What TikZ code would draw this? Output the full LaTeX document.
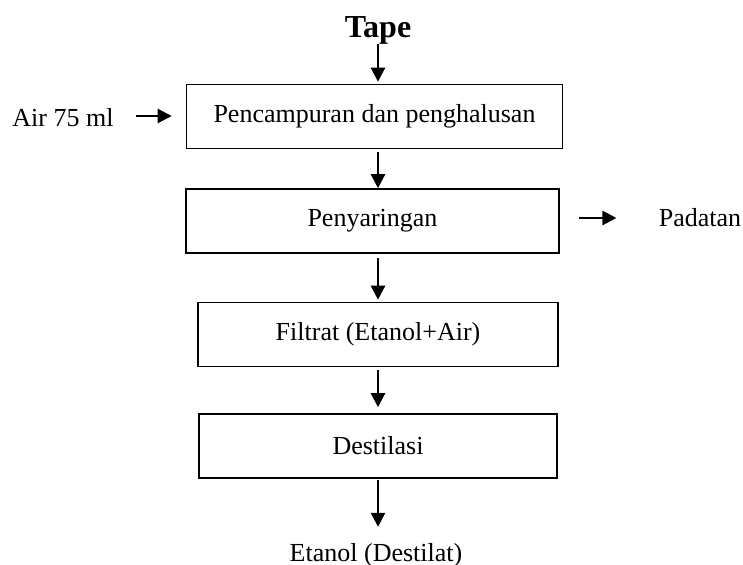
\documentclass[tikz,border=0pt]{standalone}
\usepackage{fontspec}
\setmainfont{Liberation Serif}
\usetikzlibrary{arrows.meta}
\begin{document}
\begin{tikzpicture}[x=0.5pt,y=-0.5pt,
  box/.style={draw, line width=0.8pt, minimum height=32pt, inner sep=0pt, font=\fontsize{13}{15}\selectfont},
  lbl/.style={inner sep=0pt, font=\fontsize{13}{15}\selectfont},
  arr/.style={-{Triangle[length=7pt,width=7pt]}, line width=1.2pt}]
\useasboundingbox (0,0) rectangle (743,565);
\node[inner sep=0pt, font=\bfseries\fontsize{16}{18}\selectfont] (tape) at (378,30) {Tape};
\node[box, minimum width=188pt] (b1) at (374.5,116.5) {Pencampuran dan penghalusan};
\node[box, minimum width=186.5pt] (b2) at (372.5,221) {Penyaringan};
\node[box, minimum width=180pt] (b3) at (378,334.5) {Filtrat (Etanol+Air)};
\node[box, minimum width=179pt] (b4) at (378,446) {Destilasi};
\node[lbl] (air) at (63,118) {Air 75 ml};
\node[lbl] (pad) at (700,218) {Padatan};
\node[lbl] (eta) at (376,555) {Etanol (Destilat)};
\draw[arr, shorten >=1pt] (tape.south) -- (tape.south |- b1.north);
\draw[arr, shorten <=1.5pt] (b1.south -| tape) -- (b2.north -| tape);
\draw[arr, shorten <=2pt, shorten >=1pt] (b2.south -| tape) -- (b3.north -| tape);
\draw[arr, shorten <=1.5pt, shorten >=3pt] (b3.south -| tape) -- (b4.north -| tape);
\draw[arr, shorten <=0.5pt, shorten >=8pt] (b4.south -| tape) -- (eta.north -| tape);
\draw[arr, shorten <=11pt, shorten >=7pt] ([yshift=1pt]air.east) -- ([yshift=1pt]air.east -| b1.west);
\draw[arr, shorten <=9.5pt, shorten >=21pt] (b2.east |- pad) -- (pad.west);
\end{tikzpicture}
\end{document}
